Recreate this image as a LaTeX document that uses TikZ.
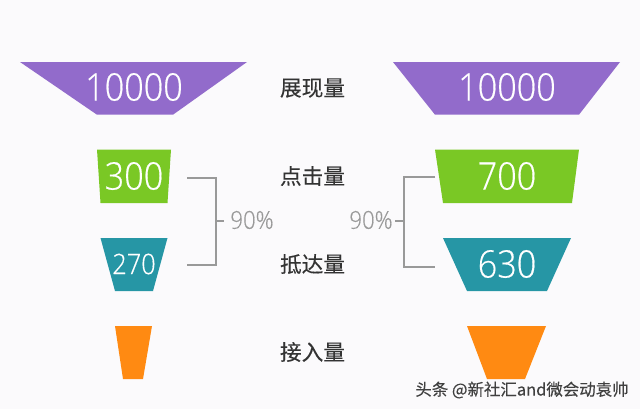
\documentclass[tikz,border=0pt]{standalone}
\usepackage{fontspec}
\setmainfont[FakeStretch=0.9, FakeBold=0.4]{Open Sans Light}
\newfontfamily\cjk[FakeBold=0.2]{Noto Sans CJK SC}
\usepackage{tikz}
\definecolor{bgc}{HTML}{FBFAFC}
\definecolor{purplec}{HTML}{926BCB}
\definecolor{greenc}{HTML}{7AC825}
\definecolor{tealc}{HTML}{2696A5}
\definecolor{orangec}{HTML}{FF8A12}
\definecolor{greyc}{HTML}{999999}
\tikzset{num/.style={text=white, font=\fontsize{27}{30}\selectfont, inner sep=0pt},
  small/.style={num, font=\fontsize{20}{24}\selectfont},
  rowlabel/.style={text=black!80, font=\cjk\fontsize{15.4}{18}\selectfont, inner sep=0pt},
  pct/.style={text=greyc, font=\fontsize{17.5}{20}\selectfont, inner sep=0pt},
  bracket/.style={draw=greyc, line width=1.4pt}}

\begin{document}
\begin{tikzpicture}[x=0.025cm, y=-0.025cm]
    \useasboundingbox[fill=bgc] (0,0) rectangle (640,409);
    % left funnel
    \fill[purplec] (20,62) -- (247,62) -- (173,114.7) -- (97,114.7) -- cycle;
    \fill[greenc] (97,149.5) -- (171,149.5) -- (167.5,203) -- (100.5,203) -- cycle;
    \fill[tealc] (100.5,238) -- (167.5,238) -- (153,291) -- (115,291) -- cycle;
    \fill[orangec] (115,326) -- (152,326) -- (143,379) -- (123,379) -- cycle;
    % right funnel
    \fill[purplec] (393,62) -- (620,62) -- (579,114.7) -- (435,114.7) -- cycle;
    \fill[greenc] (435,149.5) -- (579,149.5) -- (572,203) -- (443,203) -- cycle;
    \fill[tealc] (443,238) -- (571,238) -- (547,291) -- (467,291) -- cycle;
    \fill[orangec] (467,326) -- (546,326) -- (525,379) -- (487,379) -- cycle;
    % numbers
    \node[num] (lshow) at (134,87) {10000};
    \node[num] (lclick) at (134,176) {300};
    \node[small] (lreach) at (134,264) {270};
    \node[num] (rshow) at (507,87) {10000};
    \node[num] (rclick) at (507,176) {700};
    \node[num] (rreach) at (507,264) {630};
    % row labels
    \node[rowlabel] (show) at (312.5,88) {展现量};
    \node[rowlabel] (click) at (312.5,176) {点击量};
    \node[rowlabel] (reach) at (312.5,264) {抵达量};
    \node[rowlabel] (access) at (312.5,352) {接入量};
    % brackets
    \coordinate (ltop) at (187,178);
    \coordinate (lbot) at (187,265);
    \coordinate (lmid) at (216,221);
    \coordinate (rtop) at (435,177);
    \coordinate (rbot) at (435,267);
    \coordinate (rmid) at (404,221);
    \node[pct] (lpct) at (252,220) {90\%};
    \node[pct] (rpct) at (371,220) {90\%};
    \draw[bracket] (ltop) -| (lmid) |- (lbot);
    \draw[bracket] (rtop) -| (rmid) |- (rbot);
    \draw[bracket] (lmid) -- ++(8,0);
    \draw[bracket] (rmid) -- ++(-9,0);
    % watermark
    \node[text=black!75, font=\cjk\fontsize{11.7}{14}\selectfont, inner sep=0pt] (mark) at (522,390) {头条 @新社汇and微会动袁帅};
  \end{tikzpicture}
\end{document}
